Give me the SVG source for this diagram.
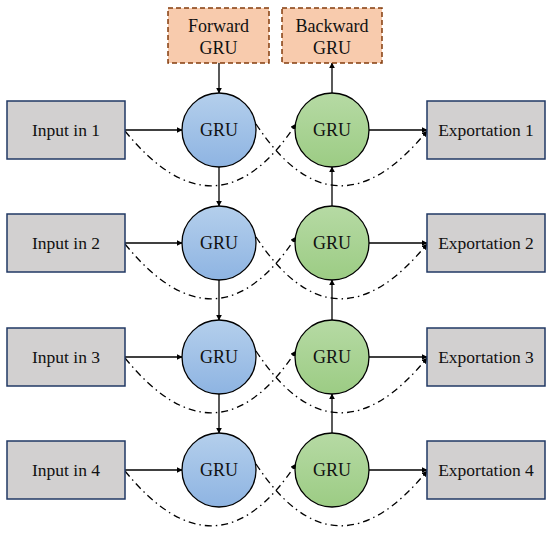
<svg xmlns="http://www.w3.org/2000/svg" width="550" height="536" viewBox="0 0 550 536">
<defs>
<linearGradient id="gb" x1="0" y1="0" x2="0" y2="1"><stop offset="0" stop-color="#B4CFEC"/><stop offset="1" stop-color="#8EB4E2"/></linearGradient>
<linearGradient id="gg" x1="0" y1="0" x2="0" y2="1"><stop offset="0" stop-color="#B6DAA4"/><stop offset="1" stop-color="#9CCC84"/></linearGradient>
<marker id="ah" viewBox="0 0 10 10" refX="9" refY="5" markerWidth="6" markerHeight="6" orient="auto" markerUnits="userSpaceOnUse"><path d="M0,0 L10,5 L0,10 z" fill="#000"/></marker>
<style>
.box{fill:#D2D0D0;stroke:#203864;stroke-width:1.5}
.top{fill:#F8CBAD;stroke:#843C0C;stroke-width:1.5;stroke-dasharray:5,3}
.cb{fill:url(#gb);stroke:#000;stroke-width:1.3}
.cg{fill:url(#gg);stroke:#000;stroke-width:1.3}
.t{font-family:"Liberation Serif","Times New Roman",serif;font-size:17.5px;fill:#111;text-anchor:middle}
.g{font-size:18px}
.ln{stroke:#000;stroke-width:1.3;fill:none;marker-end:url(#ah)}
.dd{stroke:#000;stroke-width:1.3;fill:none;stroke-dasharray:7,4,1.5,4;marker-end:url(#ah)}
</style>
</defs>
<g id="connectors">
<line class="ln" x1="219" y1="63" x2="219" y2="93"/>
<line class="ln" x1="332" y1="93" x2="332" y2="63"/>
<line class="ln" x1="125" y1="130" x2="182" y2="130"/>
<line class="ln" x1="125" y1="243" x2="182" y2="243"/>
<line class="ln" x1="125" y1="357" x2="182" y2="357"/>
<line class="ln" x1="125" y1="470" x2="182" y2="470"/>
<line class="ln" x1="369" y1="130" x2="427" y2="130"/>
<line class="ln" x1="369" y1="243" x2="427" y2="243"/>
<line class="ln" x1="369" y1="357" x2="427" y2="357"/>
<line class="ln" x1="369" y1="470" x2="427" y2="470"/>
<line class="ln" x1="219" y1="167" x2="219" y2="206"/>
<line class="ln" x1="219" y1="280" x2="219" y2="320"/>
<line class="ln" x1="219" y1="394" x2="219" y2="433"/>
<line class="ln" x1="332" y1="206" x2="332" y2="167"/>
<line class="ln" x1="332" y1="320" x2="332" y2="280"/>
<line class="ln" x1="332" y1="433" x2="332" y2="394"/>
<path class="dd" d="M125,131 Q217,244 296,124"/>
<path class="dd" d="M256,124 Q335,244 427,131"/>
<path class="dd" d="M125,244 Q217,357 296,237"/>
<path class="dd" d="M256,237 Q335,357 427,244"/>
<path class="dd" d="M125,358 Q217,471 296,351"/>
<path class="dd" d="M256,351 Q335,471 427,358"/>
<path class="dd" d="M125,471 Q217,584 296,464"/>
<path class="dd" d="M256,464 Q335,584 427,471"/>
</g>
<g id="forward"><rect class="top" x="168" y="8" width="101" height="55"/><text class="t g" x="218.5" y="32">Forward</text><text class="t g" x="218.5" y="54">GRU</text></g>
<g id="backward"><rect class="top" x="282" y="8" width="100" height="55"/><text class="t g" x="332" y="32">Backward</text><text class="t g" x="332" y="54">GRU</text></g>
<g id="in1"><rect class="box" x="7" y="101" width="118" height="58"/><text class="t" x="66" y="136">Input in 1</text></g>
<g id="in2"><rect class="box" x="7" y="214" width="118" height="58"/><text class="t" x="66" y="249">Input in 2</text></g>
<g id="in3"><rect class="box" x="7" y="328" width="118" height="58"/><text class="t" x="66" y="363">Input in 3</text></g>
<g id="in4"><rect class="box" x="7" y="441" width="118" height="58"/><text class="t" x="66" y="476">Input in 4</text></g>
<g id="f1"><circle class="cb" cx="219" cy="130" r="37"/><text class="t g" x="219" y="136">GRU</text></g>
<g id="f2"><circle class="cb" cx="219" cy="243" r="37"/><text class="t g" x="219" y="249">GRU</text></g>
<g id="f3"><circle class="cb" cx="219" cy="357" r="37"/><text class="t g" x="219" y="363">GRU</text></g>
<g id="f4"><circle class="cb" cx="219" cy="470" r="37"/><text class="t g" x="219" y="476">GRU</text></g>
<g id="b1"><circle class="cg" cx="332" cy="130" r="37"/><text class="t g" x="332" y="136">GRU</text></g>
<g id="b2"><circle class="cg" cx="332" cy="243" r="37"/><text class="t g" x="332" y="249">GRU</text></g>
<g id="b3"><circle class="cg" cx="332" cy="357" r="37"/><text class="t g" x="332" y="363">GRU</text></g>
<g id="b4"><circle class="cg" cx="332" cy="470" r="37"/><text class="t g" x="332" y="476">GRU</text></g>
<g id="e1"><rect class="box" x="427" y="101" width="118" height="58"/><text class="t" x="486" y="136">Exportation 1</text></g>
<g id="e2"><rect class="box" x="427" y="214" width="118" height="58"/><text class="t" x="486" y="249">Exportation 2</text></g>
<g id="e3"><rect class="box" x="427" y="328" width="118" height="58"/><text class="t" x="486" y="363">Exportation 3</text></g>
<g id="e4"><rect class="box" x="427" y="441" width="118" height="58"/><text class="t" x="486" y="476">Exportation 4</text></g>
</svg>
